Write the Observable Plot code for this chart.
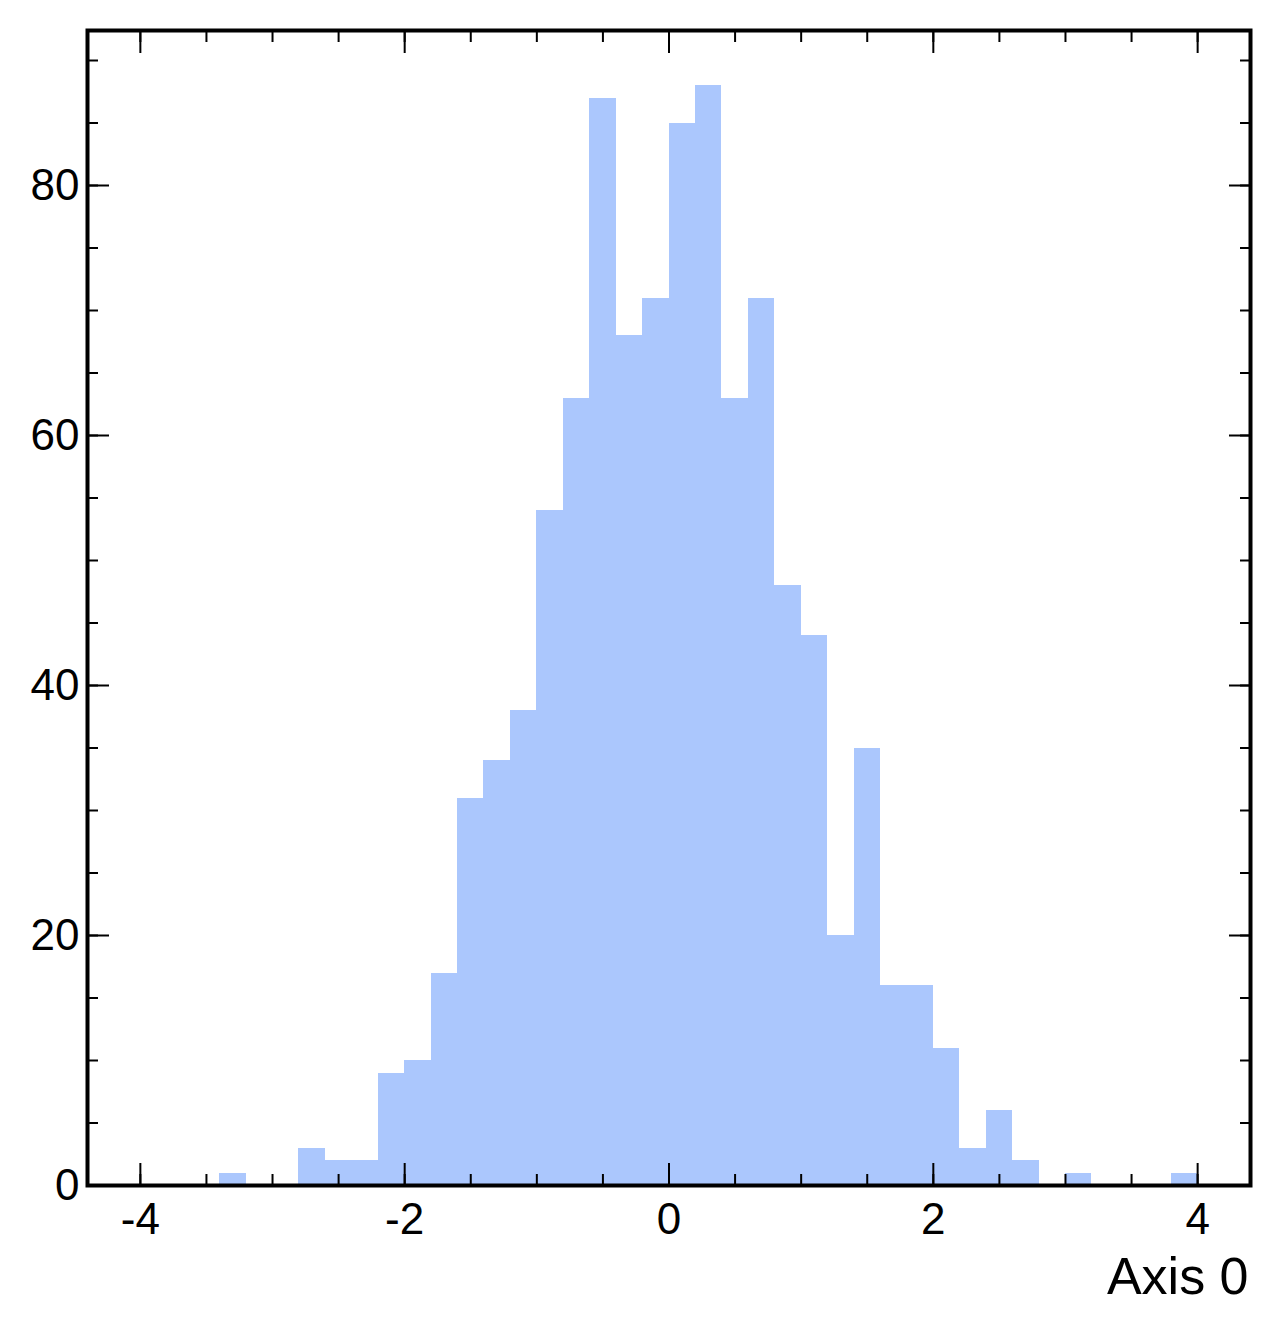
<!DOCTYPE html>
<html>
<head>
<meta charset="utf-8">
<script src="https://cdn.jsdelivr.net/npm/d3@7"></script>
<script src="https://cdn.jsdelivr.net/npm/@observablehq/plot@0.6"></script>
<style>
  html, body { margin: 0; padding: 0; background: #ffffff; }
  #chart svg { display: block; overflow: visible; }
</style>
</head>
<body>
<div id="chart"></div>
<script>
// Bin edges (lower/upper) and counts
const binLow  = [-3.4, -3.2, -3.0, -2.8, -2.6, -2.4, -2.2, -2.0, -1.8, -1.6, -1.4, -1.2, -1.0, -0.8, -0.6, -0.4, -0.2, 0.0, 0.2, 0.4, 0.6, 0.8, 1.0, 1.2, 1.4, 1.6, 1.8, 2.0, 2.2, 2.4, 2.6, 2.8, 3.0, 3.2, 3.4, 3.6, 3.8];
const binHigh = [-3.2, -3.0, -2.8, -2.6, -2.4, -2.2, -2.0, -1.8, -1.6, -1.4, -1.2, -1.0, -0.8, -0.6, -0.4, -0.2, 0.0, 0.2, 0.4, 0.6, 0.8, 1.0, 1.2, 1.4, 1.6, 1.8, 2.0, 2.2, 2.4, 2.6, 2.8, 3.0, 3.2, 3.4, 3.6, 3.8, 4.0];
const counts  = [1, 0, 0, 3, 2, 2, 9, 10, 17, 31, 34, 38, 54, 63, 87, 68, 71, 85, 88, 63, 71, 48, 44, 20, 35, 16, 16, 11, 3, 6, 2, 0, 1, 0, 0, 0, 1];

const xMajorTicks = [-4, -2, 0, 2, 4];
const xMinorTicks = [-4, -3.5, -3, -2.5, -2, -1.5, -1, -0.5, 0, 0.5, 1, 1.5, 2, 2.5, 3, 3.5, 4];
const yMajorTicks = [0, 20, 40, 60, 80];
const yMinorTicks = [0, 5, 10, 15, 20, 25, 30, 35, 40, 45, 50, 55, 60, 65, 70, 75, 80, 85, 90];
const xLabel = "Axis 0";

const bins = binLow.map((lo, i) => ({x1: lo, x2: binHigh[i], count: counts[i]}));

const FONT = "'Liberation Sans', Arial, Helvetica, sans-serif";
const blank = () => "";

const chart = Plot.plot({
  width: 1279,
  height: 1335,
  marginLeft: 87,
  marginRight: 29,
  marginTop: 30,
  marginBottom: 150,
  style: {fontFamily: FONT, background: "#ffffff", color: "#000000"},
  x: {domain: [-4.4, 4.4]},
  y: {domain: [0, 92.4]},
  marks: [
    Plot.rectY(bins, {x1: "x1", x2: "x2", y: "count", fill: "#abc7fd", inset: 0, shapeRendering: "crispEdges"}),
    // bottom axis
    Plot.axisX(xMajorTicks, {anchor: "bottom", tickSize: -22, tickPadding: 39, strokeWidth: 2, fontSize: 44, label: null, tickFormat: d => d < 0 ? "-" + Math.abs(d) : String(d)}),
    Plot.axisX(xMinorTicks, {anchor: "bottom", tickSize: -11, strokeWidth: 2, label: null, tickFormat: blank}),
    // top axis
    Plot.axisX(xMajorTicks, {anchor: "top", tickSize: -22, strokeWidth: 2, label: null, tickFormat: blank}),
    Plot.axisX(xMinorTicks, {anchor: "top", tickSize: -11, strokeWidth: 2, label: null, tickFormat: blank}),
    // left axis
    Plot.axisY(yMajorTicks, {anchor: "left", tickSize: -22, tickPadding: 30, strokeWidth: 2, fontSize: 44, label: null}),
    Plot.axisY(yMinorTicks, {anchor: "left", tickSize: -11, strokeWidth: 2, label: null, tickFormat: blank}),
    // right axis
    Plot.axisY(yMajorTicks, {anchor: "right", tickSize: -22, strokeWidth: 2, label: null, tickFormat: blank}),
    Plot.axisY(yMinorTicks, {anchor: "right", tickSize: -11, strokeWidth: 2, label: null, tickFormat: blank}),
    Plot.frame({stroke: "#000000", strokeWidth: 4}),
    Plot.text([xLabel], {text: d => d, frameAnchor: "bottom-right", textAnchor: "end", lineAnchor: "bottom", dx: -2, dy: 108, fontSize: 52, fill: "#000000"})
  ]
});

document.getElementById("chart").appendChild(chart);
</script>
</body>
</html>
